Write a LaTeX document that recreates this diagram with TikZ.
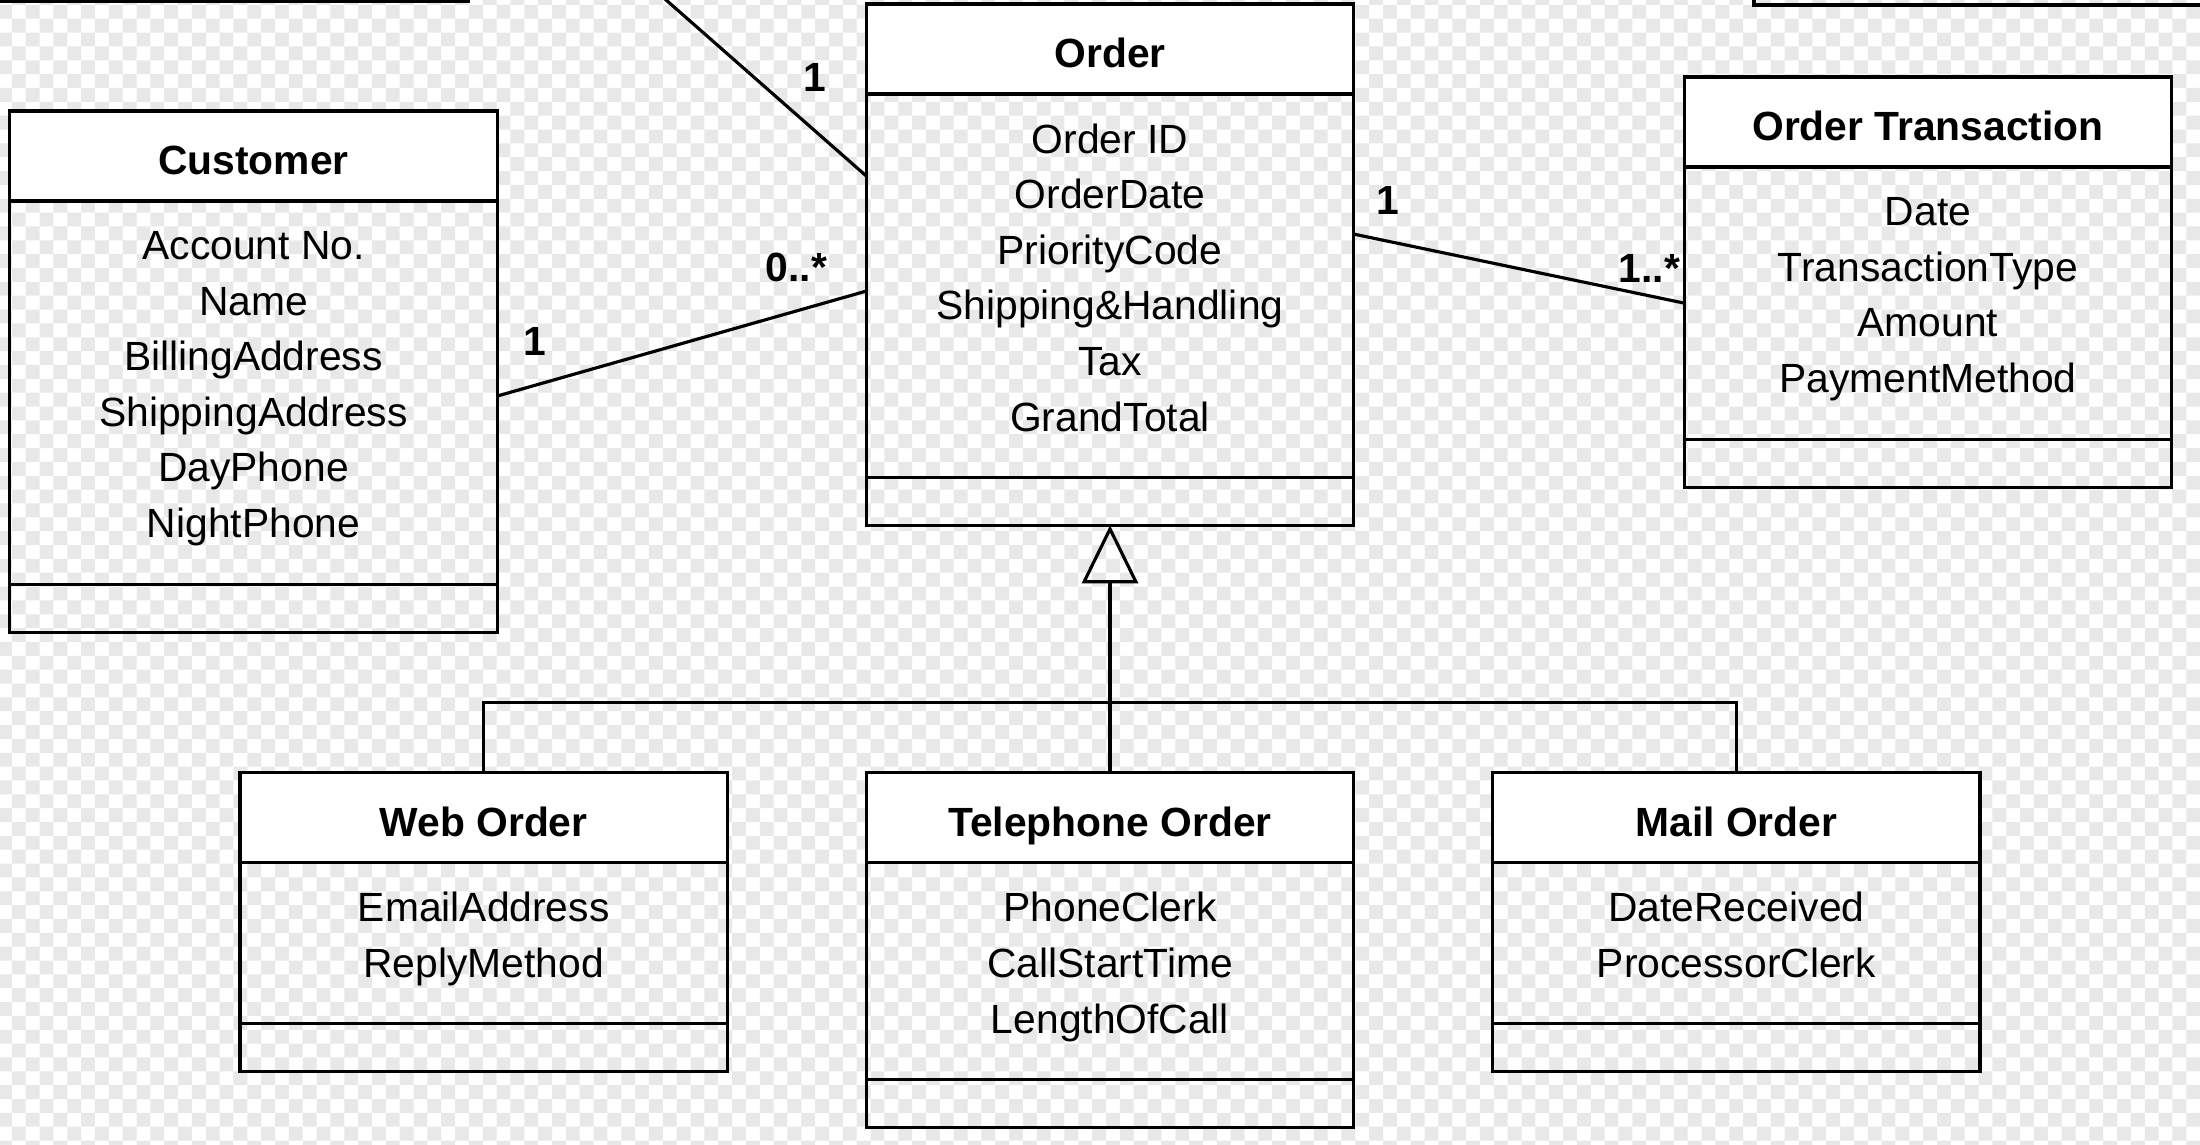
\documentclass[tikz,border=0pt]{standalone}
\usepackage{fontspec}
\setmainfont{Liberation Sans}
\usepackage{xcolor}
\usetikzlibrary{arrows.meta, positioning, calc}
\definecolor{checkgray}{RGB}{232,232,232}
\tikzstyle{classhead} = [rectangle, draw=black, line width=0.9pt, fill=white, minimum width=4.87cm, minimum height=0.9cm, inner sep=0pt, outer sep=0pt, text height=0.37cm, text depth=0pt, font=\bfseries]
\tikzstyle{classattr} = [rectangle, draw=black, line width=0.9pt, minimum width=4.87cm, inner sep=0pt, outer sep=0pt, align=center, execute at begin node={\rule{0pt}{0.45cm}}, execute at end node=\strut]
\tikzstyle{classops} = [rectangle, draw=black, line width=0.9pt, minimum width=4.87cm, minimum height=0.48cm, inner sep=0pt, outer sep=0pt]
\tikzstyle{assoc} = [line width=0.9pt, draw=black]
\tikzstyle{inherit} = [-{Triangle[open, length=0.58cm, width=0.56cm]}, line width=0.9pt, draw=black]
\tikzstyle{mult} = [font=\bfseries, inner sep=0pt]

\begin{document}
\fontsize{11.6pt}{15.8pt}\selectfont
\begin{tikzpicture}[x=0.01cm, y=-0.01cm]
    \useasboundingbox (0,0) rectangle (2200,1144);
    \clip (0,0) rectangle (2200,1144);

    % === BACKGROUND: transparency checkerboard ===
    \fill[checkgray, even odd rule]
        \foreach \i in {0,...,79} {(\i*27.7-2,-10) rectangle ++(13.85,1170)}
        \foreach \j in {0,...,41} {(-10,\j*27.7-9) rectangle ++(2220,13.85)};

    % === ROW 0: boxes cut off at the top edge ===
    \node[classops, anchor=south east] (prevbox) at (468,1) {};
    \node[classops, anchor=south west] (nextbox) at (1754,5) {};

    % === ROW 1: Customer, Order, Order Transaction ===
    \node[classhead, anchor=north] (order) at (1110,4) {Order};
    \node[classattr, minimum height=3.83cm, below=0pt of order] (order-attr) {Order ID\\OrderDate\\PriorityCode\\Shipping\&Handling\\Tax\\GrandTotal};
    \node[classops, below=0pt of order-attr] (order-ops) {};

    \node[classhead, anchor=north] (cust) at (253.5,111) {Customer};
    \node[classattr, minimum height=3.83cm, below=0pt of cust] (cust-attr) {Account No.\\Name\\BillingAddress\\ShippingAddress\\DayPhone\\NightPhone};
    \node[classops, below=0pt of cust-attr] (cust-ops) {};

    \node[classhead, anchor=north] (trans) at (1928,77) {Order Transaction};
    \node[classattr, minimum height=2.72cm, below=0pt of trans] (trans-attr) {Date\\TransactionType\\Amount\\PaymentMethod};
    \node[classops, below=0pt of trans-attr] (trans-ops) {};

    % === ROW 2: Order subclasses ===
    \node[classhead, below=2.47cm of order-ops] (tel) {Telephone Order};
    \node[classattr, minimum height=2.17cm, below=0pt of tel] (tel-attr) {PhoneClerk\\CallStartTime\\LengthOfCall};
    \node[classops, below=0pt of tel-attr] (tel-ops) {};

    \node[classhead, left=1.39cm of tel] (web) {Web Order};
    \node[classattr, minimum height=1.61cm, below=0pt of web] (web-attr) {EmailAddress\\ReplyMethod};
    \node[classops, below=0pt of web-attr] (web-ops) {};

    \node[classhead, right=1.39cm of tel] (mail) {Mail Order};
    \node[classattr, minimum height=1.61cm, below=0pt of mail] (mail-attr) {DateReceived\\ProcessorClerk};
    \node[classops, below=0pt of mail-attr] (mail-ops) {};

    % ===== CONNECTORS =====
    % Association coming in from above the edge
    \coordinate (offtop) at (632,-30);
    \draw[assoc] (offtop) -- ($(order-attr.north west)+(0,82)$);
    \node[mult] (m-top) at ($(order.north west)+(-52,73)$) {1};

    % Customer -- Order
    \draw[assoc] ($(cust-attr.north east)+(0,195)$) -- ($(order-attr.north west)+(0,197)$);
    \node[mult] (m-cust) at ($(cust-attr.north east)+(38,140)$) {1};
    \node[mult] (m-order-c) at ($(order-attr.north west)+(-70,173)$) {0..*};

    % Order -- Order Transaction
    \draw[assoc] ($(order-attr.north east)+(0,140)$) -- (trans-attr.west);
    \node[mult] (m-order-t) at ($(order-attr.north east)+(34,106)$) {1};
    \node[mult] (m-trans) at ($(trans-attr.north west)+(-35,101)$) {1..*};

    % Generalization (one triangle, shared bus)
    \draw[inherit] (tel.north) -- (order-ops.south);
    \draw[assoc] (web.north) -- ++(0,-70) -| (mail.north);
\end{tikzpicture}
\end{document}
